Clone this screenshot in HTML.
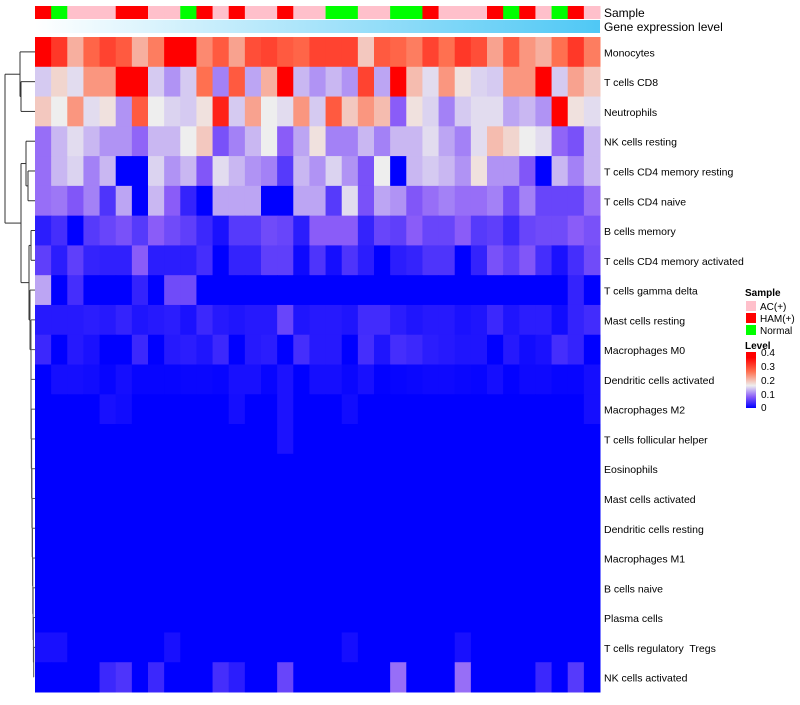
<!DOCTYPE html>
<html><head><meta charset="utf-8"><style>
body{margin:0;background:#fff;font-family:"Liberation Sans",sans-serif}
svg text{font-family:"Liberation Sans",sans-serif;white-space:pre}
</style></head><body>
<svg id="chart" width="800" height="700" xmlns="http://www.w3.org/2000/svg">
<defs><linearGradient id="gexp" x1="0" x2="1" y1="0" y2="0"><stop offset="0" stop-color="#ffffff"/><stop offset="1" stop-color="#4fc8f5"/></linearGradient>
<linearGradient id="lvl" x1="0" x2="0" y1="1" y2="0"><stop offset="0" stop-color="#0000ff"/><stop offset="0.2" stop-color="#8a5cf8"/><stop offset="0.4" stop-color="#eeeeee"/><stop offset="0.65" stop-color="#ff7050"/><stop offset="0.9" stop-color="#ff0000"/><stop offset="1" stop-color="#ff0000"/></linearGradient></defs>
<g id="cells"></g>
<g id="dendro" stroke="#333" stroke-width="1" fill="none"></g>
<g id="labels" font-size="10.5" fill="#000"></g>
<rect x="35" y="20" width="565" height="13" fill="url(#gexp)"/>
<text x="604" y="17" font-size="12">Sample</text>
<text x="604" y="31" font-size="12">Gene expression level</text>
<g font-size="10">
<text x="745" y="296" font-weight="bold">Sample</text>
<rect x="746" y="301" width="10" height="10" fill="#ffc0cb"/>
<text x="760" y="310">AC(+)</text>
<rect x="746" y="313" width="10" height="10" fill="#ff0000"/>
<text x="760" y="322">HAM(+)</text>
<rect x="746" y="325" width="10" height="10" fill="#00ff00"/>
<text x="760" y="334">Normal</text>
<text x="745" y="349" font-weight="bold">Level</text>
<rect x="746" y="352" width="10" height="56" fill="url(#lvl)"/>
<text x="761" y="356">0.4</text>
<text x="761" y="370">0.3</text>
<text x="761" y="384">0.2</text>
<text x="761" y="398">0.1</text>
<text x="761" y="411">0</text>
</g>
</svg>
<script>
const rowNames=["Monocytes","T cells CD8","Neutrophils","NK cells resting","T cells CD4 memory resting","T cells CD4 naive","B cells memory","T cells CD4 memory activated","T cells gamma delta","Mast cells resting","Macrophages M0","Dendritic cells activated","Macrophages M2","T cells follicular helper","Eosinophils","Mast cells activated","Dendritic cells resting","Macrophages M1","B cells naive","Plasma cells","T cells regulatory  Tregs","NK cells activated"];
const sampleGroups=["H","N","A","A","A","H","H","A","A","N","H","A","H","A","A","H","A","A","N","N","A","A","N","N","H","A","A","A","H","N","H","A","N","H","A"];
const values=[
[.4,.31,.21,.27,.3,.28,.21,.25,.4,.4,.24,.28,.22,.29,.3,.28,.27,.3,.3,.3,.19,.28,.27,.25,.3,.26,.31,.29,.22,.28,.23,.21,.26,.31,.25],
[.14,.18,.15,.23,.23,.4,.4,.14,.11,.14,.26,.10,.28,.12,.21,.4,.13,.11,.13,.11,.3,.12,.4,.2,.15,.23,.17,.145,.14,.23,.23,.4,.14,.22,.19],
[.19,.16,.23,.15,.17,.11,.28,.16,.145,.14,.17,.33,.14,.22,.16,.15,.23,.14,.28,.19,.23,.2,.08,.17,.145,.10,.14,.15,.15,.12,.13,.11,.4,.17,.15],
[.09,.13,.15,.13,.11,.11,.085,.13,.13,.16,.19,.07,.10,.13,.16,.08,.12,.17,.10,.10,.13,.10,.13,.13,.15,.12,.10,.15,.2,.18,.16,.15,.085,.07,.13],
[.09,.13,.145,.10,.13,0,0,.145,.11,.13,.075,.15,.13,.11,.10,.05,.13,.11,.145,.11,.07,.16,0,.13,.14,.13,.11,.17,.11,.11,.075,0,.13,.10,.13],
[.09,.095,.075,.10,.045,.12,0,.13,.08,.03,0,.12,.12,.12,0,0,.12,.12,.05,.15,.07,.12,.11,.075,.09,.10,.09,.09,.10,.065,.10,.06,.06,.06,.09],
[.025,.04,0,.05,.06,.07,.05,.08,.065,.055,.035,.015,.05,.05,.065,.06,.025,.08,.08,.08,.03,.06,.055,.08,.06,.06,.08,.05,.055,.035,.06,.065,.065,.08,.07],
[.055,.025,.055,.03,.028,.028,.08,.025,.025,.025,.04,0,.03,.03,.055,.055,.008,.045,.012,.045,.025,0,.025,.03,.045,.045,0,.03,.07,.055,.075,.04,.015,.04,.065],
[.12,0,.04,0,0,0,.03,0,.065,.065,0,0,0,0,0,0,0,0,0,0,0,0,0,0,0,0,0,0,0,0,0,0,0,.03,0],
[.022,.022,.022,.025,.022,.03,.018,.022,.025,.015,.035,.022,.018,.022,.022,.06,.018,.022,.022,.018,.038,.038,.025,.018,.022,.022,.015,.018,.035,.018,.025,.025,.01,.03,.038],
[.035,0,.022,.015,0,0,.035,0,.022,.025,.018,.035,0,.022,.025,0,.04,.022,.022,0,.04,.018,.04,.035,.025,.022,.018,.018,0,.022,.01,.015,.04,.03,0],
[0,.012,.012,.01,.004,.012,.004,.004,.004,.006,.006,.004,.014,.014,.004,.016,0,.012,.012,.006,.014,.002,.004,.006,.008,.008,.006,.004,.012,.002,.008,.008,.004,.004,.012],
[0,0,0,0,.014,.01,0,0,0,0,0,0,.012,0,0,.016,0,0,0,.01,0,0,0,0,0,0,0,0,0,0,0,0,0,0,.012],
[0,0,0,0,0,0,0,0,0,0,0,0,0,0,0,.016,0,0,0,0,0,0,0,0,0,0,0,0,0,0,0,0,0,0,0],
[0,0,0,0,0,0,0,0,0,0,0,0,0,0,0,0,0,0,0,0,0,0,0,0,0,0,0,0,0,0,0,0,0,0,0],
[0,0,0,0,0,0,0,0,0,0,0,0,0,0,0,0,0,0,0,0,0,0,0,0,0,0,0,0,0,0,0,0,0,0,0],
[0,0,0,0,0,0,0,0,0,0,0,0,0,0,0,0,0,0,0,0,0,0,0,0,0,0,0,0,0,0,0,0,0,0,0],
[0,0,0,0,0,0,0,0,0,0,0,0,0,0,0,0,0,0,0,0,0,0,0,0,0,0,0,0,0,0,0,0,0,0,0],
[0,0,0,0,0,0,0,0,0,0,0,0,0,0,0,0,0,0,0,0,0,0,0,0,0,0,0,0,0,0,0,0,0,0,0],
[0,0,0,0,0,0,0,0,0,0,0,0,0,0,0,0,0,0,0,0,0,0,0,0,0,0,0,0,0,0,0,0,0,0,0],
[.014,.014,0,0,0,0,0,0,.014,0,0,0,0,0,0,0,0,0,0,.012,0,0,0,0,0,0,.014,0,0,0,0,0,0,0,0],
[0,0,0,0,.035,.045,0,.035,0,0,0,.04,.025,0,0,.06,0,0,0,0,0,0,.09,0,0,0,.09,0,0,0,0,.035,0,.05,0]
];
const groupColors={A:"#ffc0cb",H:"#ff0000",N:"#00ff00"};
const X0=35,X1=600,Y0=37,Y1=692;
const nC=sampleGroups.length,nR=rowNames.length;
const cw=(X1-X0)/nC,rh=(Y1-Y0)/nR;
const xPos=j=>X0+j*cw, yPos=i=>Y0+i*rh;
const stops=[[0,[0,0,255]],[.08,[138,92,248]],[.16,[238,238,238]],[.26,[255,112,80]],[.36,[255,0,0]]];
function color(v){
  if(v<=0)return "rgb(0,0,255)";
  for(let k=1;k<stops.length;k++){if(v<=stops[k][0]){const a=stops[k-1],b=stops[k],t=(v-a[0])/(b[0]-a[0]);
    return "rgb("+a[1].map((c,i)=>Math.round(c+(b[1][i]-c)*t)).join(",")+")";}}
  return "rgb(255,0,0)";
}
const NS="http://www.w3.org/2000/svg";
const svg=document.getElementById("chart");
const cells=document.getElementById("cells");
sampleGroups.forEach((g,j)=>{
  const r=document.createElementNS(NS,"rect");
  r.setAttribute("x",xPos(j));r.setAttribute("y",6);r.setAttribute("width",cw+0.5);r.setAttribute("height",13);r.setAttribute("fill",groupColors[g]);
  
  
  svg.appendChild(r);
});
values.forEach((row,i)=>row.forEach((v,j)=>{
  const r=document.createElementNS(NS,"rect");
  r.setAttribute("x",xPos(j));r.setAttribute("y",yPos(i));r.setAttribute("width",cw+0.5);r.setAttribute("height",rh+0.5);r.setAttribute("fill",color(v));
  
  
  cells.appendChild(r);
}));
const labels=document.getElementById("labels");
rowNames.forEach((n,i)=>{
  const t=document.createElementNS(NS,"text");
  t.setAttribute("x",604);t.setAttribute("y",yPos(i)+rh/2+4.5);t.textContent=n;
  
  
  labels.appendChild(t);
});
const cy=i=>yPos(i)+rh/2;
const dg=document.getElementById("dendro");
function ln(x1,y1,x2,y2,c){const l=document.createElementNS(NS,"line");l.setAttribute("x1",x1);l.setAttribute("y1",y1);l.setAttribute("x2",x2);l.setAttribute("y2",y2);if(c)l.setAttribute("stroke",c);dg.appendChild(l);}
function join(x,ya,xa,yb,xb,c){ln(xa,ya,x,ya,c);ln(xb,yb,x,yb,c);ln(x,ya,x,yb,c);return (ya+yb)/2;}
const a=join(21,cy(1),35,cy(2),35);
const b=join(20,cy(0),35,a,21);
const c=join(28,cy(4),35,cy(5),35);
const d=join(26,cy(3),35,c,28);
const e=join(31,cy(6),35,cy(7),35);
let low=cy(21),lx=34;
for(let i=20;i>=9;i--){const nx=Math.max(31,lx-0.3);low=join(nx,cy(i),35,low,lx,"#555");lx=nx;}
const f=join(30,cy(8),35,low,lx,"#444");
const g=join(29,e,31,f,30);
const h=join(21,d,26,g,29);
join(5,b,20,h,21);
</script>
</body></html>
